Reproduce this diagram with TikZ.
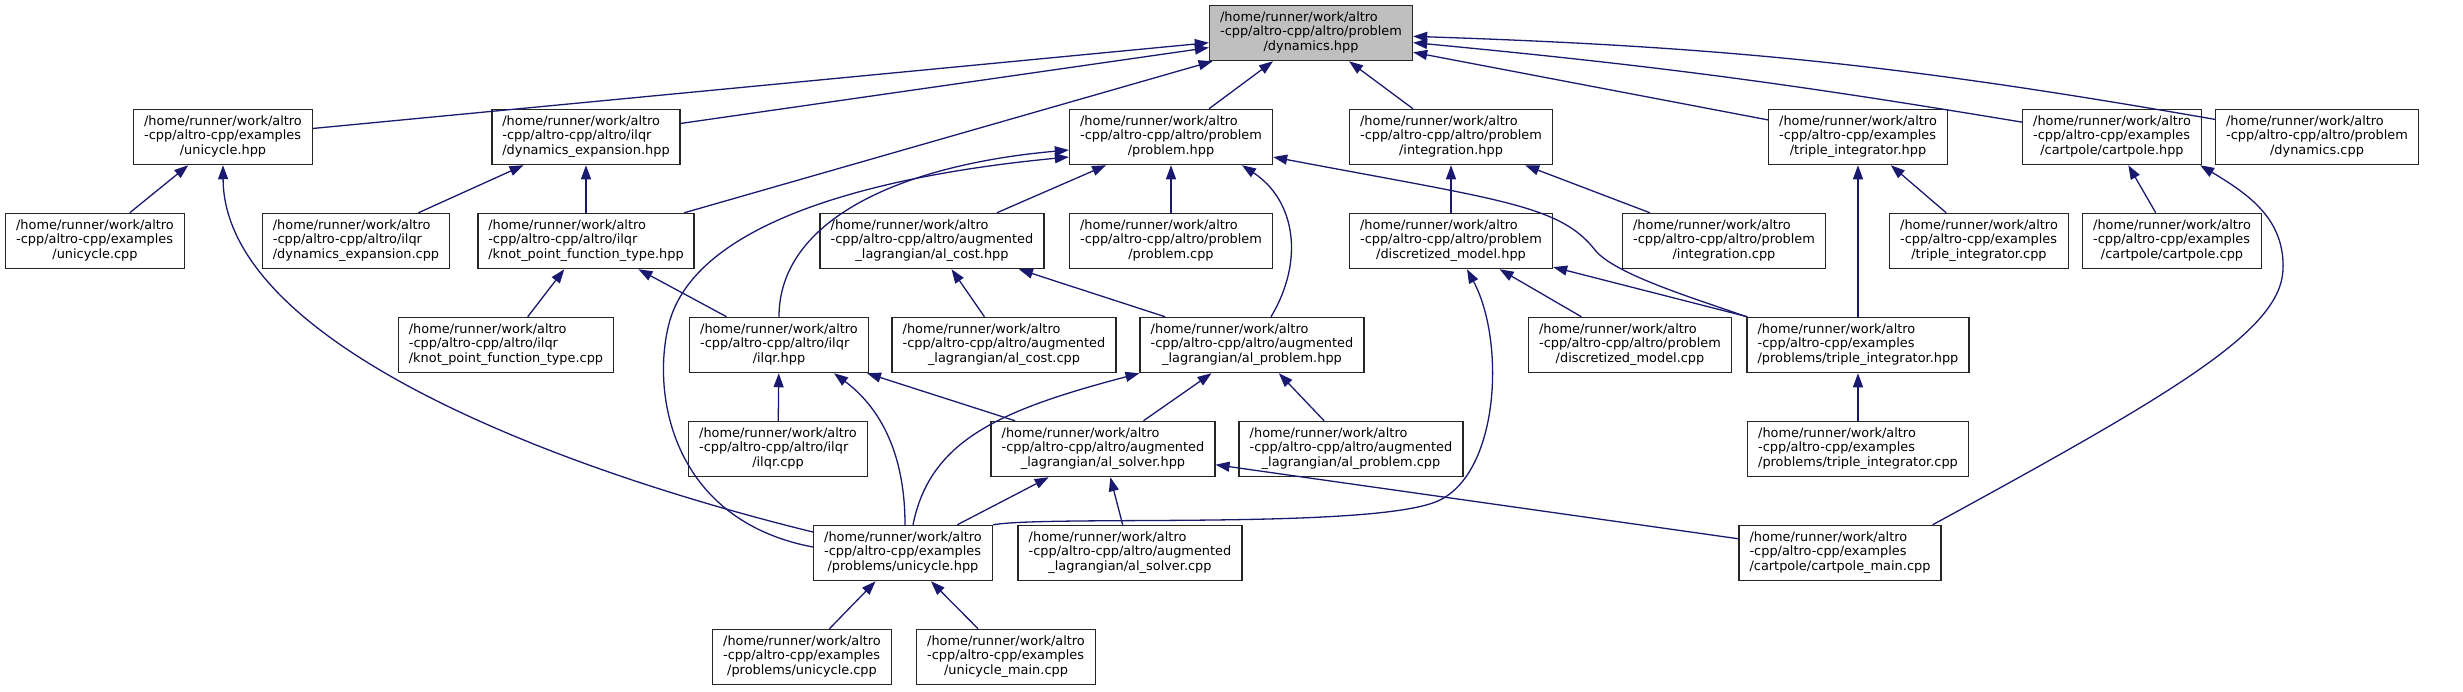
\documentclass[tikz,border=0pt]{standalone}
\usepackage{fontspec}
\setmainfont{DejaVu Sans}
\usetikzlibrary{arrows.meta}
\definecolor{edgeblue}{HTML}{191970}
\definecolor{filegray}{HTML}{BFBFBF}
\newcommand\srcfile[2]{\begin{tabular}{@{}l@{}}/home/runner/work/altro\\#1\\\multicolumn{1}{@{}c@{}}{#2}\end{tabular}}
\begin{document}
\begin{tikzpicture}[x=1pt,y=-1pt,font=\fontsize{12.9}{14.5}\selectfont,
  file/.style={draw=black!85,line width=1.5pt,fill=white,inner xsep=10.5pt,inner ysep=0pt,minimum height=55pt},
  dep/.style={draw=edgeblue,line width=1.3pt,-{Triangle[length=14pt,width=10pt]}}]
\useasboundingbox (0,0) rectangle (2463,691);
\node[file,fill=filegray] (dyn) at (1311,33) {\srcfile{-cpp/altro-cpp/altro/problem}{/dynamics.hpp}};
\node[file] (uni) at (223,137) {\srcfile{-cpp/altro-cpp/examples}{/unicycle.hpp}};
\node[file] (dexp) at (586,137) {\srcfile{-cpp/altro-cpp/altro/ilqr}{/dynamics\_expansion.hpp}};
\node[file] (prob) at (1171,137) {\srcfile{-cpp/altro-cpp/altro/problem}{/problem.hpp}};
\node[file] (integ) at (1451,137) {\srcfile{-cpp/altro-cpp/altro/problem}{/integration.hpp}};
\node[file] (tri) at (1858,137) {\srcfile{-cpp/altro-cpp/examples}{/triple\_integrator.hpp}};
\node[file] (cart) at (2112,137) {\srcfile{-cpp/altro-cpp/examples}{/cartpole/cartpole.hpp}};
\node[file] (dyncpp) at (2317,137) {\srcfile{-cpp/altro-cpp/altro/problem}{/dynamics.cpp}};
\node[file] (unicpp) at (95,241) {\srcfile{-cpp/altro-cpp/examples}{/unicycle.cpp}};
\node[file] (dexpcpp) at (356,241) {\srcfile{-cpp/altro-cpp/altro/ilqr}{/dynamics\_expansion.cpp}};
\node[file] (knot) at (586,241) {\srcfile{-cpp/altro-cpp/altro/ilqr}{/knot\_point\_function\_type.hpp}};
\node[file] (alcost) at (932,241) {\srcfile{-cpp/altro-cpp/altro/augmented}{\_lagrangian/al\_cost.hpp}};
\node[file] (probcpp) at (1171,241) {\srcfile{-cpp/altro-cpp/altro/problem}{/problem.cpp}};
\node[file] (disc) at (1451,241) {\srcfile{-cpp/altro-cpp/altro/problem}{/discretized\_model.hpp}};
\node[file] (integcpp) at (1724,241) {\srcfile{-cpp/altro-cpp/altro/problem}{/integration.cpp}};
\node[file] (tricpp) at (1979,241) {\srcfile{-cpp/altro-cpp/examples}{/triple\_integrator.cpp}};
\node[file] (cartcpp) at (2172,241) {\srcfile{-cpp/altro-cpp/examples}{/cartpole/cartpole.cpp}};
\node[file] (knotcpp) at (506,345) {\srcfile{-cpp/altro-cpp/altro/ilqr}{/knot\_point\_function\_type.cpp}};
\node[file] (ilqr) at (779,345) {\srcfile{-cpp/altro-cpp/altro/ilqr}{/ilqr.hpp}};
\node[file] (alcostcpp) at (1004,345) {\srcfile{-cpp/altro-cpp/altro/augmented}{\_lagrangian/al\_cost.cpp}};
\node[file] (alprob) at (1252,345) {\srcfile{-cpp/altro-cpp/altro/augmented}{\_lagrangian/al\_problem.hpp}};
\node[file] (disccpp) at (1630,345) {\srcfile{-cpp/altro-cpp/altro/problem}{/discretized\_model.cpp}};
\node[file] (ptri) at (1858,345) {\srcfile{-cpp/altro-cpp/examples}{/problems/triple\_integrator.hpp}};
\node[file] (ilqrcpp) at (778,449) {\srcfile{-cpp/altro-cpp/altro/ilqr}{/ilqr.cpp}};
\node[file] (alsolv) at (1103,449) {\srcfile{-cpp/altro-cpp/altro/augmented}{\_lagrangian/al\_solver.hpp}};
\node[file] (alprobcpp) at (1351,449) {\srcfile{-cpp/altro-cpp/altro/augmented}{\_lagrangian/al\_problem.cpp}};
\node[file] (ptricpp) at (1858,449) {\srcfile{-cpp/altro-cpp/examples}{/problems/triple\_integrator.cpp}};
\node[file] (puni) at (903,553) {\srcfile{-cpp/altro-cpp/examples}{/problems/unicycle.hpp}};
\node[file] (alsolvcpp) at (1130,553) {\srcfile{-cpp/altro-cpp/altro/augmented}{\_lagrangian/al\_solver.cpp}};
\node[file] (cartmain) at (1840,553) {\srcfile{-cpp/altro-cpp/examples}{/cartpole/cartpole\_main.cpp}};
\node[file] (punicpp) at (802,657) {\srcfile{-cpp/altro-cpp/examples}{/problems/unicycle.cpp}};
\node[file] (unimain) at (1006,657) {\srcfile{-cpp/altro-cpp/examples}{/unicycle\_main.cpp}};
\foreach \a/\b in {uni/dyn,dexp/dyn,knot/dyn,prob/dyn,integ/dyn,tri/dyn,
  unicpp/uni,dexpcpp/dexp,knot/dexp,knotcpp/knot,ilqr/knot,alcost/prob,probcpp/prob,
  disc/integ,integcpp/integ,ptri/tri,tricpp/tri,cartcpp/cart,alcostcpp/alcost,alprob/alcost,
  disccpp/disc,ptri/disc,ilqrcpp/ilqr,alsolv/ilqr,alsolv/alprob,alprobcpp/alprob,
  puni/alsolv,alsolvcpp/alsolv,cartmain/alsolv,ptricpp/ptri,punicpp/puni,unimain/puni}
  {\draw[dep] (\a) -- (\b);}
\draw[dep] (cart) to[bend right=2] (dyn);
\draw[dep] (dyncpp) to[bend right=4] (dyn);
\draw[dep] ([yshift=21pt]puni.west) .. controls (560,470) and (224,344) .. (uni.south);
\draw[dep] (ilqr.north) .. controls (779,220) and (900,165) .. ([yshift=-13pt]prob.west);
\draw[dep] ([yshift=6pt]puni.west) .. controls (670,520) and (650,390) .. (670,320)
  .. controls (700,220) and (880,175) .. ([yshift=-20pt]prob.west);
\draw[dep] ([xshift=19pt]alprob.north) .. controls (1305,260) and (1295,200) .. ([xshift=71pt]prob.south);
\draw[dep] (ptri.north west) .. controls (1700,300) and (1615,275) .. (1595,250)
  .. controls (1560,205) and (1500,200) .. ([yshift=-20pt]prob.east);
\draw[dep] (puni.north east) .. controls (1050,515) and (1380,530) .. (1440,500)
  .. controls (1500,470) and (1505,340) .. ([xshift=16pt]disc.south);
\draw[dep] ([xshift=-9pt]cartmain.north east) .. controls (2180,390) and (2280,330) .. (2283,270)
  .. controls (2285,220) and (2250,195) .. ([xshift=-2pt]cart.south east);
\draw[dep] ([xshift=2pt]puni.north) .. controls (905,440) and (870,400) .. ([xshift=55pt]ilqr.south);
\draw[dep] ([xshift=10pt]puni.north) .. controls (930,440) and (1000,410) .. (alprob.south west);
\end{tikzpicture}
\end{document}
